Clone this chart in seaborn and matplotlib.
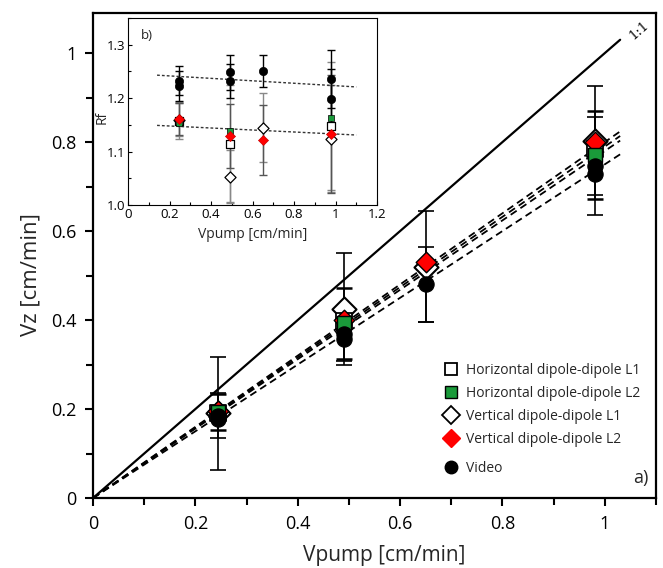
import numpy as np
import pandas as pd
import matplotlib
matplotlib.use("Agg")
import matplotlib.pyplot as plt
from matplotlib.ticker import MultipleLocator
from matplotlib.lines import Line2D
import seaborn as sns

# ---------------- data (main panel a) ----------------
vpump = [0.245, 0.49, 0.65, 0.98]
vz_h_l1 = [0.192, 0.397, np.nan, 0.785]
vz_h_l2 = [0.193, 0.393, np.nan, 0.771]
vz_v_l1 = [0.190, 0.425, 0.520, 0.803]
vz_v_l2 = [0.195, 0.400, 0.530, 0.800]
vz_video_a = [0.185, 0.368, 0.480, 0.746]
vz_video_b = [0.178, 0.357, np.nan, 0.728]
err_v_l1 = [0.127, 0.125, 0.125, 0.122]
err_h_l2 = [0.040, 0.080, np.nan, 0.100]
err_video = [0.050, 0.060, 0.085, 0.110]
fit_slopes = [0.80, 0.79, 0.78, 0.75]
fit_x = [0.0, 1.03]
one_to_one = [0.0, 1.03]

# ---------------- data (inset panel b) ----------------
rf_h_l1 = [1.158, 1.115, np.nan, 1.148]
rf_h_l2 = [1.153, 1.138, np.nan, 1.162]
rf_v_l1 = [1.160, 1.053, 1.145, 1.124]
rf_v_l2 = [1.161, 1.129, 1.122, 1.133]
rf_video_a = [1.233, 1.248, 1.250, 1.236]
rf_video_b = [1.222, 1.232, np.nan, 1.199]
rf_err_h_l1 = [0.035, 0.110, np.nan, 0.120]
rf_err_v_l1 = [0.030, 0.050, 0.065, 0.100]
rf_err_v_l2 = [0.030, 0.060, 0.065, 0.110]
rf_err_video = [0.028, 0.032, 0.030, 0.055]
rf_trend_x = [0.14, 1.10]
rf_trend_upper = [1.243, 1.221]
rf_trend_lower = [1.149, 1.131]

labels = ["Horizontal dipole-dipole L1", "Horizontal dipole-dipole L2",
          "Vertical dipole-dipole L1", "Vertical dipole-dipole L2", "Video"]

sns.set_theme(style="ticks")
plt.rcParams['font.family'] = ['Open Sans', 'DejaVu Sans']

fig = plt.figure(figsize=(6.63, 5.68), dpi=100)
ax = fig.add_axes([0.1403, 0.1232, 0.9894 - 0.1403, 0.977 - 0.1232])

x = np.array(vpump)

# error bars
ax.errorbar(x, vz_v_l1, yerr=err_v_l1, fmt='none', ecolor='black', elinewidth=1.2, capsize=6, capthick=1.2, zorder=2)
ax.errorbar(x, vz_h_l2, yerr=err_h_l2, fmt='none', ecolor='black', elinewidth=1.2, capsize=6, capthick=1.8, zorder=2)
ax.errorbar(x, vz_video_a, yerr=err_video, fmt='none', ecolor='black', elinewidth=1.2, capsize=6, capthick=1.2, zorder=2)

# lines
sns.lineplot(x=one_to_one, y=one_to_one, ax=ax, color='black', lw=1.6, zorder=3)
for s in fit_slopes:
    sns.lineplot(x=fit_x, y=[s * v for v in fit_x], ax=ax, color='black', lw=1.3,
                 linestyle=(0, (4, 2.5)), zorder=3)

# markers
sns.scatterplot(x=x, y=vz_v_l1, ax=ax, marker='D', s=150, color='white', edgecolor='black', linewidth=1.5, zorder=4)
sns.scatterplot(x=x, y=vz_h_l1, ax=ax, marker='s', s=130, color='white', edgecolor='black', linewidth=1.3, zorder=5)
sns.scatterplot(x=x, y=vz_v_l2, ax=ax, marker='D', s=110, color='#ff0000', edgecolor='black', linewidth=1.0, zorder=6)
sns.scatterplot(x=x, y=vz_h_l2, ax=ax, marker='s', s=95, color='#1a9a3a', edgecolor='black', linewidth=1.0, zorder=7)
sns.scatterplot(x=x, y=vz_video_a, ax=ax, marker='o', s=120, color='black', edgecolor='black', zorder=8)
sns.scatterplot(x=x, y=vz_video_b, ax=ax, marker='o', s=120, color='black', edgecolor='black', zorder=8)

ax.text(1.068, 1.05, "1:1", rotation=41, ha='center', va='center', fontsize=9.5, color='black',
        family=['DejaVu Serif'])
ax.text(1.085, 0.045, "a)", ha='right', va='center', fontsize=13)

ax.set_xlim(0, 1.1)
ax.set_ylim(0, 1.09)
ax.xaxis.set_minor_locator(MultipleLocator(0.1))
ax.yaxis.set_minor_locator(MultipleLocator(0.1))
ax.set_xticks([0, 0.2, 0.4, 0.6, 0.8, 1.0])
ax.set_xticklabels(["0", "0.2", "0.4", "0.6", "0.8", "1"])
ax.set_yticks([0, 0.2, 0.4, 0.6, 0.8, 1.0])
ax.set_yticklabels(["0", "0.2", "0.4", "0.6", "0.8", "1"])
ax.tick_params(which='major', direction='out', length=6, width=1.5, labelsize=13, colors='black', pad=6)
ax.tick_params(which='minor', direction='out', length=5, width=1.5, colors='black')
ax.tick_params(top=False, right=False)
for sp in ax.spines.values():
    sp.set_linewidth(1.6)
    sp.set_color('black')
ax.set_xlabel("Vpump [cm/min]", fontsize=15)
ax.xaxis.set_label_coords(0.517, -0.097)
ax.set_ylabel("Vz [cm/min]", fontsize=16)
ax.yaxis.set_label_coords(-0.092, 0.46)

handles = [
    Line2D([], [], ls='none', marker='s', ms=9, mfc='white', mec='black', mew=1.3),
    Line2D([], [], ls='none', marker='s', ms=9, mfc='#1a9a3a', mec='black', mew=1.0),
    Line2D([], [], ls='none', marker='D', ms=9, mfc='white', mec='black', mew=1.3),
    Line2D([], [], ls='none', marker='D', ms=9, mfc='#ff0000', mec='#ff0000', mew=1.0),
]
leg = ax.legend(handles, labels[:4], loc='upper left', bbox_to_anchor=(0.614, 0.29), frameon=False,
                fontsize=10, handlelength=1.0, handletextpad=0.55, labelspacing=0.58, borderaxespad=0.0)
ax.add_artist(leg)
video_handle = [Line2D([], [], ls='none', marker='o', ms=9, mfc='black', mec='black')]
ax.legend(video_handle, labels[4:], loc='upper left', bbox_to_anchor=(0.614, 0.088), frameon=False,
          fontsize=10, handlelength=1.0, handletextpad=0.55, borderaxespad=0.0)

# ---------------- inset ----------------
ins = fig.add_axes([128 / 663, (568 - 205) / 568, 249 / 663, 187 / 568])
ins.errorbar(x, rf_h_l1, yerr=rf_err_h_l1, fmt='none', ecolor='#888888', elinewidth=1.0, capsize=3, zorder=2)
ins.errorbar(x, rf_v_l1, yerr=rf_err_v_l1, fmt='none', ecolor='#888888', elinewidth=1.0, capsize=3, zorder=2)
ins.errorbar(x, rf_v_l2, yerr=rf_err_v_l2, fmt='none', ecolor='#555555', elinewidth=1.0, capsize=3, zorder=2)
ins.errorbar(x, rf_video_a, yerr=rf_err_video, fmt='none', ecolor='black', elinewidth=1.0, capsize=3, zorder=2)
ins.errorbar(x, rf_video_b, yerr=rf_err_video, fmt='none', ecolor='black', elinewidth=1.0, capsize=3, zorder=2)

sns.lineplot(x=rf_trend_x, y=rf_trend_upper, ax=ins, color='#333333', lw=1.0, linestyle=(0, (2, 1.5)), zorder=3)
sns.lineplot(x=rf_trend_x, y=rf_trend_lower, ax=ins, color='#333333', lw=1.0, linestyle=(0, (2, 1.5)), zorder=3)

sns.scatterplot(x=x, y=rf_v_l1, ax=ins, marker='D', s=32, color='white', edgecolor='black', linewidth=0.9, zorder=4)
sns.scatterplot(x=x, y=rf_h_l1, ax=ins, marker='s', s=32, color='white', edgecolor='black', linewidth=0.9, zorder=5)
sns.scatterplot(x=x, y=rf_h_l2, ax=ins, marker='s', s=20, color='#1a9a3a', edgecolor='black', linewidth=0.5, zorder=6)
sns.scatterplot(x=x, y=rf_v_l2, ax=ins, marker='D', s=26, color='#ff0000', edgecolor='#cc0000', linewidth=0.5, zorder=7)
sns.scatterplot(x=x, y=rf_video_a, ax=ins, marker='o', s=36, color='black', edgecolor='black', zorder=8)
sns.scatterplot(x=x, y=rf_video_b, ax=ins, marker='o', s=36, color='black', edgecolor='black', zorder=8)

ins.set_xlim(0, 1.2)
ins.set_ylim(1.0, 1.35)
ins.set_xticks([0, 0.2, 0.4, 0.6, 0.8, 1.0, 1.2])
ins.set_xticklabels(["0", "0.2", "0.4", "0.6", "0.8", "1", "1.2"])
ins.set_yticks([1.0, 1.1, 1.2, 1.3])
ins.set_yticklabels(["1.0", "1.1", "1.2", "1.3"])
ins.xaxis.set_minor_locator(MultipleLocator(0.1))
ins.yaxis.set_minor_locator(MultipleLocator(0.05))
ins.tick_params(which='major', direction='in', length=3, width=0.8, labelsize=9.5, colors='black', pad=2)
ins.tick_params(which='minor', direction='in', length=2, width=0.8, colors='black')
for sp in ins.spines.values():
    sp.set_linewidth(0.8)
    sp.set_color('black')
ins.set_xlabel("Vpump [cm/min]", fontsize=10)
ins.xaxis.set_label_coords(0.5, -0.12)
ins.set_ylabel("Rf", fontsize=10)
ins.yaxis.set_label_coords(-0.075, 0.47)
ins.text(0.05, 0.94, "b)", transform=ins.transAxes, ha='left', va='top', fontsize=9.5)

fig.savefig("out.png", dpi=100)
